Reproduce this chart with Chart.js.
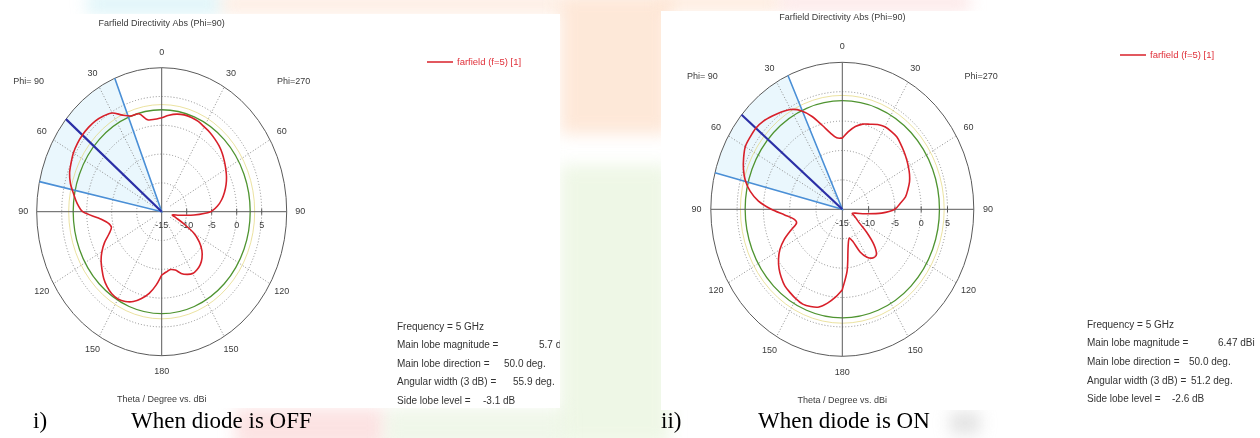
<!DOCTYPE html>
<html>
<head>
<meta charset="utf-8">
<script src="https://cdn.jsdelivr.net/npm/chart.js@4.4.1/dist/chart.umd.min.js"></script>
<style>
  body { margin: 0; width: 1260px; height: 438px; position: relative; overflow: hidden; background: #fff; }
  .wm { position: absolute; filter: blur(8px); opacity: 0.6; }
  .box { position: absolute; background: #fff; }
  canvas { position: absolute; top: 0; }
  .cap { position: absolute; top: 408px; font: 23px "Liberation Serif", "Times New Roman", serif; color: #000; white-space: pre; }
</style>
</head>
<body>
<!-- faint watermark colours behind the two screenshots -->
<div class="wm" style="left:87px;top:-6px;width:135px;height:20px;background:#c8eef5"></div>
<div class="wm" style="left:222px;top:-6px;width:340px;height:20px;background:#fde2d0"></div>
<div class="wm" style="left:560px;top:-6px;width:110px;height:140px;background:#fdd9bf"></div>
<div class="wm" style="left:560px;top:165px;width:110px;height:280px;background:#e4f2d6"></div>
<div class="wm" style="left:661px;top:-6px;width:120px;height:17px;background:#fddcc4"></div>
<div class="wm" style="left:780px;top:-6px;width:190px;height:17px;background:#fbd6d6"></div>
<div class="wm" style="left:235px;top:408px;width:150px;height:40px;background:#fad0d0"></div>
<div class="wm" style="left:385px;top:408px;width:180px;height:40px;background:#e6f2dc"></div>
<div class="wm" style="left:950px;top:412px;width:30px;height:22px;background:#cfcfcf"></div>

<div class="box" style="left:0;top:14px;width:560px;height:394px"></div>
<div class="box" style="left:661px;top:11px;width:599px;height:399px"></div>

<canvas id="offChart" width="560" height="438" style="left:0"></canvas>
<canvas id="onChart" width="599" height="438" style="left:661px"></canvas>

<div class="cap" style="left:33px">i)</div>
<div class="cap" style="left:131px">When diode is OFF</div>
<div class="cap" style="left:661px">ii)</div>
<div class="cap" style="left:758px">When diode is ON</div>

<script>
// theta (deg) for both half-planes: Phi=90 is drawn on the left, Phi=270 on the right
const thetaDeg = [0, 5, 10, 15, 20, 25, 30, 35, 40, 45, 50, 55, 60, 65, 70, 75, 80, 85, 90,
  95, 100, 105, 110, 115, 120, 125, 130, 135, 140, 145, 150, 155, 160, 165, 170, 175, 180];

// directivity in dBi
const offPhi90 = [1.3, 1.1, 1.2, 2.6, 2.7, 3.5, 4.8, 5.3, 5.6, 5.7, 5.7, 5.6, 5.4, 5.0, 4.6, 3.9, 2.9, 2.0, 0.8,
  -2.3, -4.0, -4.6, -3.8, -2.4, -1.2, -0.2, 0.6, 1.4, 2.0, 2.4, 2.5, 2.2, 1.6, 0.6, -0.6, -2.2, -4.0];
const offPhi270 = [1.3, 1.8, 2.2, 2.4, 2.4, 2.3, 2.0, 1.8, 1.5, 1.2, 0.8, 0.3, -0.2, -0.7, -1.3, -2.0, -2.8, -3.8, -5.2,
  -8.5, -11.5, -12.8, -12.0, -10.3, -7.6, -5.8, -4.5, -3.6, -3.0, -2.7, -2.6, -3.0, -3.6, -4.5, -4.8, -4.5, -4.0];
const onPhi90 = [-2.9, -2.8, -1.8, -0.2, 1.8, 3.5, 4.6, 5.2, 5.7, 6.2, 6.47, 6.4, 6.3, 5.7, 5.0, 4.1, 2.8, 1.0, -1.5,
  -4.0, -5.6, -6.0, -4.6, -2.8, -1.3, -0.2, 0.7, 1.4, 2.0, 2.3, 2.6, 2.8, 2.6, 2.2, 1.2, 0.0, -1.3];
const onPhi270 = [-2.9, -1.75, -0.7, 0.0, 0.4, 0.9, 1.2, 1.2, 1.1, 0.7, 0.3, -0.1, -0.5, -0.9, -1.4, -2.1, -2.8, -4.0, -5.0,
  -7.5, -10.6, -12.5, -13.0, -12.6, -12.0, -11.2, -9.0, -6.5, -4.9, -4.9, -5.6, -7.0, -9.2, -9.9, -8.6, -4.5, -1.3];

// tick labels
const dbTicks = [-15, -10, -5, 0, 5];
const angleTicks = [0, 30, 60, 90, 120, 150, 180];
const rMin = -15, rMax = 10;

// [main lobe magnitude, main lobe direction, 3 dB angular width]
const offBeam = [5.7, 50.0, 55.9];
const onBeam = [6.47, 50.0, 51.2];

const statLabels = ['Frequency = 5 GHz', 'Main lobe magnitude =', 'Main lobe direction =', 'Angular width (3 dB) =', 'Side lobe level ='];
const offStatValues = ['', '5.7 dBi', '50.0 deg.', '55.9 deg.', '-3.1 dB'];
const onStatValues = ['', '6.47 dBi', '50.0 deg.', '51.2 deg.', '-2.6 dB'];

const plotTitle = 'Farfield Directivity Abs (Phi=90)';
const axisTitle = 'Theta / Degree vs. dBi';
const legendLabel = 'farfield (f=5) [1]';

// side = -1 for Phi=90 (left half), +1 for Phi=270 (right half)
function toXY(theta, db, side) {
  const r = Math.max(0, db - rMin);
  const t = theta * Math.PI / 180;
  return { x: side * r * Math.sin(t), y: r * Math.cos(t) };
}

function patternPoints(phi90, phi270) {
  const pts = [];
  thetaDeg.forEach((t, i) => pts.push(toXY(t, phi90[i], -1)));
  for (let i = thetaDeg.length - 1; i >= 0; i--) pts.push(toXY(thetaDeg[i], phi270[i], 1));
  return pts;
}

const polarFrame = {
  id: 'polarFrame',
  beforeDatasetsDraw(chart, args, o) {
    const ctx = chart.ctx;
    const xs = chart.scales.x, ys = chart.scales.y;
    const px = (x, y) => [xs.getPixelForValue(x), ys.getPixelForValue(y)];
    const [cx, cy] = px(0, 0);
    const kx = xs.getPixelForValue(1) - cx, ky = cy - ys.getPixelForValue(1);
    const R = rMax - rMin;
    const ring = r => { ctx.beginPath(); ctx.ellipse(cx, cy, kx * r, ky * r, 0, 0, Math.PI * 2); ctx.stroke(); };
    const par = th => Math.atan2(-Math.cos(th * Math.PI / 180), -Math.sin(th * Math.PI / 180));

    ctx.save();
    // 3 dB beam sector
    const [mag, dir, width] = o.beam;
    ctx.fillStyle = 'rgba(200,234,250,0.38)';
    ctx.beginPath();
    ctx.moveTo(cx, cy);
    ctx.ellipse(cx, cy, kx * R, ky * R, 0, par(dir - width / 2), par(dir + width / 2), true);
    ctx.closePath();
    ctx.fill();

    // dotted grid circles and spokes
    ctx.strokeStyle = '#8a8a8a';
    ctx.lineWidth = 1;
    ctx.setLineDash([1, 2]);
    dbTicks.slice(1).forEach(d => ring(d - rMin));
    [30, 60, 120, 150].forEach(a => {
      [-1, 1].forEach(s => {
        const p0 = toXY(a, rMin + 2, s), p1 = toXY(a, rMax, s);
        const [x0, y0] = px(p0.x, p0.y), [x1, y1] = px(p1.x, p1.y);
        ctx.beginPath(); ctx.moveTo(x0, y0); ctx.lineTo(x1, y1); ctx.stroke();
      });
    });
    ctx.setLineDash([]);

    // -3 dB circle
    ctx.strokeStyle = 'rgba(226,214,120,0.7)';
    ctx.lineWidth = 1;
    ring(mag - 3 - rMin + 0.9);
    ctx.strokeStyle = '#4f9430';
    ctx.lineWidth = 1.3;
    ring(mag - 3 - rMin);

    // outer circle and axes
    ctx.strokeStyle = '#5a5a5a';
    ctx.lineWidth = 1;
    ring(R);
    ctx.beginPath();
    ctx.moveTo(cx - kx * R, cy); ctx.lineTo(cx + kx * R, cy);
    ctx.moveTo(cx, cy - ky * R); ctx.lineTo(cx, cy + ky * R);
    ctx.stroke();
    dbTicks.slice(1).forEach(d => {
      const x = cx + kx * (d - rMin);
      ctx.beginPath(); ctx.moveTo(x, cy - 3); ctx.lineTo(x, cy + 3); ctx.stroke();
    });

    // labels
    ctx.fillStyle = '#3a3a3a';
    ctx.font = '9px "Liberation Sans", Arial, sans-serif';
    ctx.textAlign = 'center';
    ctx.textBaseline = 'middle';
    dbTicks.forEach(d => ctx.fillText(String(d), cx + kx * (d - rMin), cy + 14));
    angleTicks.forEach(a => {
      const sides = (a === 0 || a === 180) ? [1] : [-1, 1];
      sides.forEach(s => {
        const t = a * Math.PI / 180;
        const [x, y] = px(s * 27.7 * Math.sin(t), 27.7 * Math.cos(t));
        ctx.fillText(String(a), x, y);
      });
    });
    let [x, y] = px(-26.6, 22.6); ctx.fillText('Phi= 90', x, y);
    [x, y] = px(26.4, 22.6); ctx.fillText('Phi=270', x, y);
    [x, y] = px(0, 32.7); ctx.fillText(plotTitle, x, y);
    [x, y] = px(0, -32.6); ctx.fillText(axisTitle, x, y);

    // legend
    ctx.strokeStyle = '#d8202a';
    ctx.lineWidth = 1.5;
    ctx.beginPath(); ctx.moveTo(o.legend[0], o.legend[1]); ctx.lineTo(o.legend[0] + 26, o.legend[1]); ctx.stroke();
    ctx.fillStyle = '#e0303a';
    ctx.textAlign = 'left';
    ctx.font = '9.5px "Liberation Sans", Arial, sans-serif';
    ctx.fillText(legendLabel, o.legend[0] + 30, o.legend[1]);

    // result summary
    ctx.fillStyle = '#333';
    ctx.font = '10px "Liberation Sans", Arial, sans-serif';
    statLabels.forEach((s, i) => {
      const yy = o.stats[1] + i * o.stats[2];
      ctx.fillText(s, o.stats[0], yy);
      if (o.values[i]) ctx.fillText(o.values[i], o.valueX[i], yy);
    });
    ctx.restore();
  }
};

function makeChart(id, phi90, phi270, beam, frame, pad) {
  const [mag, dir, width] = beam;
  const tip = toXY(dir, rMax, -1);
  const e1 = toXY(dir - width / 2, rMax, -1), e2 = toXY(dir + width / 2, rMax, -1);
  return new Chart(document.getElementById(id), {
    type: 'scatter',
    data: {
      datasets: [
        { data: patternPoints(phi90, phi270), showLine: true, borderColor: '#d8202a', borderWidth: 1.6,
          pointRadius: 0, tension: 0.3, fill: false },
        { data: [{ x: 0, y: 0 }, tip], showLine: true, borderColor: '#2b2fa6', borderWidth: 2.2, pointRadius: 0 },
        { data: [e1, { x: 0, y: 0 }, e2], showLine: true, borderColor: '#4a8fd6', borderWidth: 1.6, pointRadius: 0 }
      ]
    },
    options: {
      responsive: false,
      animation: false,
      events: [],
      layout: { padding: pad },
      scales: {
        x: { type: 'linear', min: -25, max: 25, display: false },
        y: { type: 'linear', min: -25, max: 25, display: false }
      },
      plugins: {
        legend: { display: false },
        tooltip: { enabled: false },
        polarFrame: Object.assign({ beam: beam }, frame)
      }
    },
    plugins: [polarFrame]
  });
}

makeChart('offChart', offPhi90, offPhi270, offBeam,
  { legend: [427, 62], stats: [397, 327, 18.5], values: offStatValues, valueX: [0, 539, 504, 513, 483] },
  { left: 36.7, right: 273.3, top: 67.7, bottom: 82.3 });

makeChart('onChart', onPhi90, onPhi270, onBeam,
  { legend: [459, 55], stats: [426, 325, 18.6], values: onStatValues, valueX: [0, 557, 528, 530, 511] },
  { left: 49.8, right: 286.2, top: 62.3, bottom: 81.7 });
</script>
</body>
</html>
